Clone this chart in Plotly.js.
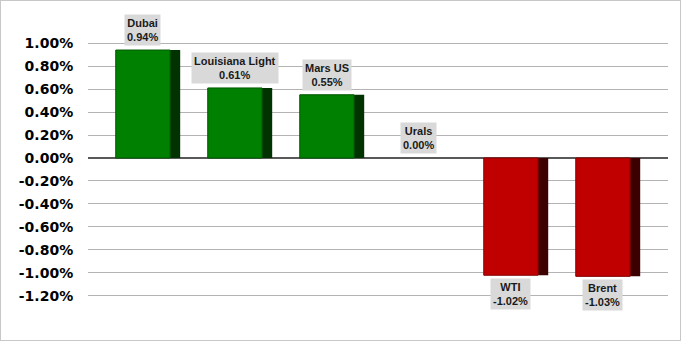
<!DOCTYPE html>
<html><head><meta charset="utf-8">
<script src="https://cdn.plot.ly/plotly-3.0.1.min.js"></script>
<style>html,body{margin:0;padding:0;background:#fff}#c{width:681px;height:341px;box-sizing:border-box;border:1px solid #c8c8c8}</style>
</head><body><div id="c"></div>
<script>
const categories = ["Dubai","Louisiana Light","Mars US","Urals","WTI","Brent"];
const values = [0.94, 0.61, 0.55, 0.00, -1.02, -1.03];
const tickVals = [1.0,0.8,0.6,0.4,0.2,0,-0.2,-0.4,-0.6,-0.8,-1.0,-1.2];

const idx = categories.map((_, i) => i);
const front = values.map(v => v >= 0 ? '#008000' : '#C00000');
const side = values.map(v => v >= 0 ? '#003300' : '#3C0000');
const edge = values.map(v => v >= 0 ? '#005a00' : '#8a0000');
const edgeW = values.map(v => v === 0 ? 0 : 1);

const sideTrace = {type:'bar', x: idx, y: values, width: 0.70, offset: -0.35,
  marker:{color: side, line:{width:0}}, hoverinfo:'skip', showlegend:false};
const frontTrace = {type:'bar', x: idx, y: values, width: 0.59, offset: -0.35,
  marker:{color: front, line:{width: edgeW, color: edge}}, hoverinfo:'skip', showlegend:false};

const annotations = categories.map((c, i) => ({
  x: i - 0.055, y: values[i], xref:'x', yref:'y',
  text: c + '<br>' + values[i].toFixed(2) + '%',
  showarrow:false, bgcolor:'#D9D9D9', borderpad:2,
  font:{family:'Arial, Liberation Sans', size:11, color:'#1a1a1a', weight:'bold'},
  yanchor: values[i] >= 0 ? 'bottom' : 'top',
  yshift: values[i] >= 0 ? 4 : -3
}));

Plotly.newPlot('c', [sideTrace, frontTrace], {
  width: 679, height: 339, barmode:'overlay',
  margin:{l:87, r:12, t:41, b:43},
  paper_bgcolor:'#fff', plot_bgcolor:'#fff',
  xaxis:{range:[-0.652, 5.652], showticklabels:false, showgrid:false, zeroline:false, ticks:''},
  yaxis:{range:[-1.21, 1.01], tickvals: tickVals, ticktext: tickVals.map(v => v.toFixed(2) + '%'),
    showgrid:true, gridcolor:'#b3b3b3', gridwidth:1,
    zeroline:true, zerolinecolor:'#595959', zerolinewidth:2,
    ticks:'outside', ticklen:11, tickcolor:'rgba(0,0,0,0)',
    tickfont:{family:'DejaVu Sans', size:14, color:'#000', weight:'bold'}},
  annotations: annotations
}, {staticPlot:true});
</script></body></html>
